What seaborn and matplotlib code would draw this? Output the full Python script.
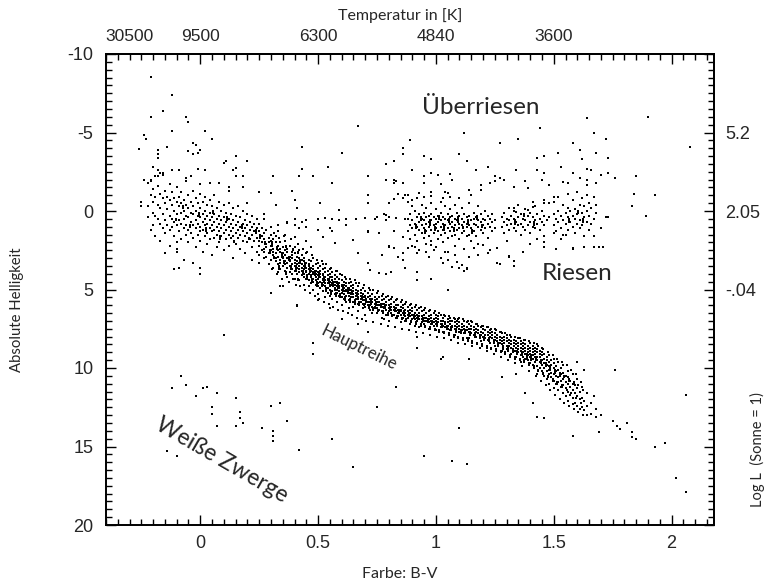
import matplotlib
matplotlib.use("Agg")
import matplotlib.pyplot as plt
from matplotlib.ticker import MultipleLocator, FixedLocator, FixedFormatter
import pandas as pd
import seaborn as sns

# ---------------------------------------------------------------------------
# Star catalogue: colour index B-V and absolute magnitude M_V
# Dense regions are stored as columns (B-V, [magnitudes]); sparse stars as pairs.
# ---------------------------------------------------------------------------

# hot, blue upper main sequence
hot_columns = [
    (-0.22, [-1.8, -0.3, 0.4]), (-0.21, [-2.0, -1.0, 1.2]), (-0.20, [-1.4, -0.6, 0.1, 0.9]),
    (-0.19, [-2.2, -0.9, 0.3, 1.6]), (-0.18, [-1.6, -0.4, 0.5]), (-0.17, [-1.1, -0.2, 0.8, 1.9]),
    (-0.16, [-2.4, -0.8, 0.2, 1.1]), (-0.15, [-1.3, -0.5, 0.6, 1.4]), (-0.14, [-0.9, -0.1, 0.9]),
    (-0.13, [-1.7, -0.7, 0.3, 1.2, 2.2]), (-0.12, [-1.2, -0.4, 0.5, 1.0]), (-0.11, [-0.8, 0.0, 0.7, 1.6]),
    (-0.10, [-1.5, -0.6, 0.2, 0.9, 2.4]), (-0.09, [-0.9, -0.3, 0.6, 1.3]), (-0.08, [-1.2, -0.5, 0.1, 0.8, 1.8]),
    (-0.07, [-0.7, 0.0, 0.5, 1.1]), (-0.06, [-1.9, -0.4, 0.3, 0.9, 1.5]), (-0.05, [-1.0, -0.2, 0.4, 1.2, 2.0]),
    (-0.04, [-0.6, 0.1, 0.7, 1.4]), (-0.03, [-1.3, -0.3, 0.2, 0.9, 1.7]), (-0.02, [-0.8, 0.0, 0.6, 1.1, 2.3]),
    (-0.01, [-0.5, 0.3, 0.8, 1.5]), (0.00, [-1.1, -0.2, 0.4, 1.0, 1.3, 1.9]), (0.01, [-0.6, 0.2, 0.7, 1.2, 2.6]),
    (0.02, [-0.9, 0.0, 0.5, 0.9, 1.6]), (0.03, [-0.4, 0.3, 0.8, 1.4, 2.1]), (0.04, [-0.7, 0.1, 0.6, 1.1, 1.8]),
    (0.05, [-0.3, 0.4, 0.9, 1.3, 2.8]), (0.06, [-1.0, 0.2, 0.7, 1.2, 1.7]), (0.07, [-0.2, 0.5, 1.0, 1.5, 2.3]),
    (0.08, [-0.6, 0.3, 0.8, 1.3, 2.0]), (0.09, [0.0, 0.6, 1.1, 1.6]), (0.10, [-0.4, 0.4, 0.9, 1.4, 2.5]),
    (0.11, [0.1, 0.7, 1.2, 1.8]), (0.12, [-0.5, 0.5, 1.0, 1.5, 2.2]), (0.13, [0.2, 0.8, 1.3, 1.7]),
    (0.14, [-0.2, 0.6, 1.1, 1.6, 3.0]), (0.15, [0.3, 0.9, 1.4, 2.1]), (0.16, [-0.3, 0.7, 1.2, 1.7]),
    (0.17, [0.4, 1.0, 1.5, 2.4]), (0.18, [0.0, 0.8, 1.3, 1.9]), (0.19, [0.6, 1.1, 1.6, 2.7]),
    (0.20, [0.2, 0.9, 1.4, 2.0]), (0.21, [0.7, 1.2, 1.8]), (0.22, [0.3, 1.0, 1.5, 2.3, 3.1]),
    (0.23, [0.8, 1.3, 1.9]), (0.24, [0.5, 1.1, 1.7, 2.6]),
]

# short vertical runs of stars within the hot sequence
hot_dashes = [
    (-0.105, [0.5, 0.6]), (-0.075, [-0.3, -0.2]), (-0.045, [0.9, 1.0]), (-0.005, [0.1, 0.2, 0.3]),
    (0.025, [1.1, 1.2, 1.3]), (0.055, [0.0, 0.1]), (0.085, [1.6, 1.7, 1.8]), (0.115, [0.4, 0.5, 0.6]),
    (0.145, [1.9, 2.0]), (0.175, [0.9, 1.0, 1.1]), (0.205, [1.7, 1.8]), (0.235, [1.2, 1.3, 1.4]),
    (0.255, [1.5, 1.6, 1.7]), (0.275, [2.0, 2.1]), (0.295, [2.5, 2.6, 2.7]),
]

# main sequence from F to M dwarfs
ms_columns = [
    (0.25, [0.8, 1.3, 1.9, 2.2, 2.8, 3.3]), (0.26, [1.1, 1.6, 2.0, 2.5]), (0.27, [0.5, 1.4, 1.8, 2.4, 2.6, 3.0]),
    (0.28, [1.2, 2.1, 2.3, 2.9]), (0.29, [1.7, 2.0, 2.7, 3.4]), (0.30, [1.0, 1.5, 1.9, 2.2, 2.5, 3.1]),
    (0.31, [1.8, 2.4, 2.6, 2.8, 3.6]), (0.32, [1.6, 2.0, 2.7, 3.0, 3.2]), (0.33, [1.3, 2.2, 2.5, 2.9, 3.4, 3.9]),
    (0.34, [2.0, 2.4, 2.6, 3.1, 3.3, 3.7]), (0.35, [2.3, 2.7, 2.9, 3.0, 3.5]), (0.36, [1.9, 2.5, 2.8, 3.2, 3.4, 3.8]),
    (0.37, [2.4, 2.6, 3.0, 3.3, 3.6, 4.2]), (0.38, [2.2, 2.9, 3.1, 3.2, 3.5, 3.9]), (0.39, [2.6, 2.8, 3.0, 3.4, 3.7, 4.0]),
    (0.40, [2.3, 2.7, 3.1, 3.3, 3.5, 3.8, 4.3]), (0.41, [2.9, 3.2, 3.4, 3.6, 4.0]),
    (0.42, [2.5, 3.0, 3.3, 3.5, 3.7, 3.9, 4.4]), (0.43, [2.8, 3.1, 3.4, 3.6, 3.8, 4.1]),
    (0.44, [3.0, 3.2, 3.5, 3.7, 4.0, 4.2, 4.7]), (0.45, [2.7, 3.3, 3.6, 3.8, 3.9, 4.3]),
    (0.46, [3.1, 3.4, 3.5, 3.7, 4.0, 4.4, 4.8]), (0.47, [3.2, 3.6, 3.8, 4.1, 4.2, 4.6]),
    (0.48, [3.0, 3.5, 3.7, 3.9, 4.0, 4.3, 4.5, 5.0]), (0.49, [3.4, 3.8, 4.0, 4.2, 4.4, 4.7]),
    (0.50, [3.3, 3.6, 3.9, 4.1, 4.3, 4.6, 4.8, 5.3]), (0.51, [3.5, 3.8, 4.0, 4.2, 4.5, 4.9]),
    (0.52, [3.4, 3.7, 4.0, 4.1, 4.3, 4.4, 4.7, 5.1]), (0.53, [3.6, 3.9, 4.2, 4.4, 4.6, 4.8, 5.5]),
    (0.54, [3.8, 4.1, 4.3, 4.4, 4.6, 4.9, 5.2]), (0.55, [3.7, 4.0, 4.2, 4.5, 4.7, 4.8, 5.0, 5.4]),
    (0.56, [3.9, 4.2, 4.4, 4.6, 4.7, 5.1, 5.6]), (0.57, [4.1, 4.3, 4.5, 4.7, 4.9, 5.0, 5.3]),
    (0.58, [3.8, 4.2, 4.5, 4.6, 4.8, 5.0, 5.2, 5.8]), (0.59, [4.3, 4.6, 4.8, 4.9, 5.1, 5.4]),
    (0.60, [4.1, 4.4, 4.7, 4.8, 5.0, 5.2, 5.5, 6.0]), (0.61, [4.5, 4.7, 4.9, 5.1, 5.3, 5.6]),
    (0.62, [4.3, 4.6, 4.8, 5.0, 5.1, 5.4, 5.8]), (0.63, [4.6, 4.9, 5.0, 5.2, 5.4, 5.7, 6.2]),
    (0.64, [4.5, 4.8, 5.0, 5.2, 5.3, 5.5]), (0.65, [4.7, 4.9, 5.1, 5.3, 5.5, 5.8, 6.1]),
    (0.66, [4.6, 5.0, 5.2, 5.4, 5.6]), (0.67, [4.8, 5.1, 5.3, 5.5, 5.6, 5.9, 6.4]),
    (0.68, [5.0, 5.2, 5.4, 5.6, 5.8]), (0.69, [4.9, 5.3, 5.5, 5.7, 5.9, 6.2]),
    (0.70, [5.1, 5.4, 5.5, 5.7, 5.9, 6.1, 6.6]), (0.71, [5.2, 5.5, 5.8, 6.0]),
    (0.72, [5.0, 5.4, 5.6, 5.8, 6.0, 6.3]), (0.73, [5.3, 5.6, 5.8, 6.1, 6.5]),
    (0.74, [5.5, 5.7, 5.9, 6.1, 6.2]), (0.75, [5.2, 5.6, 5.8, 6.0, 6.2, 6.5]),
    (0.76, [5.5, 5.8, 6.0, 6.3]), (0.77, [5.4, 5.7, 5.9, 6.1, 6.4, 6.8]),
    (0.78, [5.6, 5.9, 6.1, 6.2]), (0.79, [5.5, 5.8, 6.0, 6.3, 6.6]),
    (0.80, [5.7, 6.0, 6.2, 6.4, 7.0]), (0.81, [5.6, 5.9, 6.1, 6.3, 6.5]),
    (0.82, [5.8, 6.1, 6.3, 6.6]), (0.83, [5.7, 6.0, 6.2, 6.4, 6.8]),
    (0.84, [6.0, 6.3, 6.5, 6.7]), (0.85, [5.8, 6.1, 6.3, 6.4, 6.6, 7.1]),
    (0.86, [6.0, 6.2, 6.5, 6.8]), (0.87, [5.9, 6.3, 6.5, 6.7, 7.0]),
    (0.88, [6.1, 6.4, 6.6, 6.8]), (0.89, [6.0, 6.3, 6.5, 6.7, 7.2]),
    (0.90, [6.2, 6.4, 6.6, 6.9]), (0.91, [6.1, 6.5, 6.7, 6.9, 7.3]),
    (0.92, [6.3, 6.6, 6.8, 7.0]), (0.93, [6.2, 6.5, 6.7, 6.9, 7.4]),
    (0.94, [6.4, 6.7, 6.9, 7.1]), (0.95, [6.3, 6.6, 6.8, 7.0, 7.2]),
    (0.96, [6.5, 6.8, 7.0]), (0.97, [6.4, 6.7, 6.9, 7.1, 7.5]),
    (0.98, [6.6, 6.8, 7.0, 7.2]), (0.99, [6.5, 6.9, 7.1, 7.3]),
    (1.00, [6.6, 6.8, 7.0, 7.2, 7.6]), (1.01, [6.7, 6.9, 7.1]),
    (1.02, [6.6, 7.0, 7.2, 7.4]), (1.03, [6.8, 7.0, 7.3, 7.7]),
    (1.04, [6.7, 7.1, 7.2, 7.4]), (1.05, [6.9, 7.1, 7.3, 7.5]),
    (1.06, [6.8, 7.0, 7.2, 7.6]), (1.07, [7.0, 7.3, 7.4]),
    (1.08, [6.9, 7.1, 7.3, 7.5, 7.9]), (1.09, [7.0, 7.2, 7.4]),
    (1.10, [6.8, 7.1, 7.3, 7.5, 7.7]), (1.11, [7.2, 7.4, 7.6]),
    (1.12, [7.0, 7.3, 7.5, 7.8]), (1.13, [7.1, 7.4, 7.6]),
    (1.14, [7.2, 7.5, 7.7, 8.1]), (1.15, [7.0, 7.3, 7.5, 7.8]),
    (1.16, [7.4, 7.6, 7.9]), (1.17, [7.2, 7.5, 7.7, 8.0]),
    (1.18, [7.3, 7.6, 7.8]), (1.19, [7.4, 7.7, 7.9, 8.3]),
    (1.20, [7.3, 7.5, 7.8, 8.0]), (1.21, [7.6, 7.9, 8.1]),
    (1.22, [7.4, 7.7, 7.9, 8.2]), (1.23, [7.6, 7.8, 8.0, 8.4]),
    (1.24, [7.7, 7.9, 8.1]), (1.25, [7.5, 7.8, 8.0, 8.2, 8.6]),
    (1.26, [7.9, 8.1, 8.3]), (1.27, [7.7, 8.0, 8.2, 8.4]),
    (1.28, [7.8, 8.1, 8.3, 8.5, 8.9]), (1.29, [8.0, 8.2, 8.4]),
    (1.30, [7.9, 8.1, 8.3, 8.6, 8.8]), (1.31, [8.2, 8.4, 8.6]),
    (1.32, [8.0, 8.3, 8.5, 8.7, 9.1]), (1.33, [8.2, 8.4, 8.6, 8.9]),
    (1.34, [8.3, 8.5, 8.7, 8.9, 9.3]), (1.35, [8.1, 8.4, 8.6, 8.8, 9.0]),
    (1.36, [8.3, 8.5, 8.7, 8.9, 9.2, 9.6]), (1.37, [8.4, 8.6, 8.8, 9.0, 9.3]),
    (1.38, [8.2, 8.5, 8.7, 8.9, 9.1, 9.4]), (1.39, [8.6, 8.8, 9.0, 9.2, 9.5]),
    (1.40, [8.4, 8.7, 8.9, 9.1, 9.3, 9.7]), (1.41, [8.6, 8.8, 9.0, 9.2, 9.4, 9.8]),
    (1.42, [8.7, 8.9, 9.1, 9.3, 9.6]), (1.43, [8.5, 8.8, 9.0, 9.3, 9.5, 9.9, 10.4]),
    (1.44, [8.9, 9.1, 9.3, 9.6, 10.0]), (1.45, [8.7, 9.0, 9.2, 9.5, 9.8, 10.2]),
    (1.46, [9.1, 9.4, 9.7, 10.0, 10.5]), (1.47, [9.3, 9.5, 9.8, 10.2, 10.7]),
    (1.48, [9.2, 9.6, 9.9, 10.1, 10.4, 11.0]), (1.49, [9.5, 9.8, 10.3, 10.6]),
    (1.50, [9.4, 9.7, 10.0, 10.4, 10.8, 11.3]), (1.51, [9.9, 10.2, 10.5, 11.0]),
    (1.52, [9.6, 10.1, 10.6, 10.9, 11.4]), (1.53, [10.0, 10.4, 10.8, 11.2]),
    (1.54, [9.8, 10.3, 10.7, 11.1, 11.6]), (1.55, [10.5, 10.9, 11.3, 11.8]),
    (1.56, [10.2, 10.6, 11.0, 11.5, 12.1]), (1.57, [10.8, 11.2, 11.7]),
    (1.58, [10.4, 11.0, 11.4, 11.9, 12.3]), (1.59, [11.1, 11.6, 12.2]),
    (1.60, [10.7, 11.3, 11.8, 12.4]), (1.61, [11.5, 12.0, 12.6]),
    (1.62, [11.2, 11.9, 12.5]), (1.63, [12.1, 12.7]), (1.64, [11.6, 12.4, 13.0]),
    (1.66, [12.2, 12.9]), (1.68, [12.6, 13.1]), (1.70, [13.0]),
]

# short vertical runs of stars within the main sequence
ms_dashes = [
    (0.305, [2.0, 2.1, 2.2, 3.7]), (0.315, [1.4, 2.9, 3.0]), (0.325, [2.3, 2.4, 4.0]),
    (0.335, [1.7, 3.5, 3.6, 3.7]), (0.345, [2.7, 2.8, 2.9, 4.3]), (0.355, [1.6, 3.2, 3.3]),
    (0.365, [2.2, 2.3, 3.9, 4.0]), (0.375, [2.9, 3.0, 3.1, 4.5]), (0.385, [1.8, 3.5, 3.6, 3.7]),
    (0.395, [2.4, 2.5, 4.3]), (0.405, [3.5, 3.6, 3.7, 3.8, 4.7]), (0.415, [2.1, 2.6, 2.7, 4.3, 4.4]),
    (0.425, [3.1, 3.2, 3.3, 4.8]), (0.435, [2.4, 3.8, 3.9, 4.0]), (0.445, [3.3, 3.4, 3.5, 3.6, 5.0]),
    (0.455, [2.6, 4.1, 4.2, 4.3]), (0.465, [3.6, 3.7, 3.8, 3.9, 5.2]), (0.475, [2.8, 4.3, 4.4, 4.5]),
    (0.485, [3.8, 3.9, 4.0, 4.1, 5.4]), (0.495, [3.1, 4.5, 4.6, 4.7, 4.8]), (0.505, [3.9, 4.0, 4.1, 4.2, 5.6]),
    (0.515, [3.2, 4.6, 4.7, 4.8]), (0.525, [4.2, 4.3, 4.4, 4.5, 5.8]), (0.535, [3.4, 4.9, 5.0, 5.1]),
    (0.545, [4.3, 4.4, 4.5, 4.6, 5.9]), (0.555, [3.6, 5.1, 5.2, 5.3]), (0.565, [4.5, 4.6, 4.7, 4.8, 6.1]),
    (0.575, [3.8, 5.2, 5.3, 5.4]), (0.585, [4.6, 4.7, 4.8, 4.9, 6.3]), (0.595, [4.0, 5.3, 5.4, 5.5]),
    (0.605, [4.8, 4.9, 5.0, 5.1, 6.4]), (0.615, [4.2, 5.5, 5.6, 5.7]), (0.625, [4.9, 5.0, 5.1, 5.2, 6.5]),
    (0.635, [4.3, 5.6, 5.7, 5.8]), (0.645, [5.1, 5.2, 5.3, 6.6]), (0.655, [4.4, 5.7, 5.8, 5.9]),
    (0.665, [5.2, 5.3, 5.4, 6.8]), (0.675, [4.6, 5.8, 5.9, 6.0]), (0.685, [5.4, 5.5, 5.6, 6.9]),
    (0.695, [4.7, 5.9, 6.0]), (0.705, [5.6, 5.7, 5.8, 7.0]), (0.715, [4.9, 6.1, 6.2]),
    (0.725, [5.7, 5.8, 5.9]), (0.735, [5.0, 6.2, 6.3, 7.1]), (0.745, [5.8, 5.9, 6.0]),
    (0.755, [5.1, 6.3, 6.4]), (0.765, [5.9, 6.0, 6.1, 7.2]), (0.775, [5.3, 6.4, 6.5]),
    (0.785, [6.0, 6.1, 6.2]), (0.795, [5.4, 6.5, 6.6, 7.3]), (0.805, [6.1, 6.2, 6.3]),
    (0.815, [5.5, 6.6, 6.7]), (0.825, [6.2, 6.3, 6.4, 7.4]), (0.835, [5.6, 6.7, 6.8]),
    (0.845, [6.3, 6.4, 6.5]), (0.855, [5.7, 6.8, 6.9, 7.5]), (0.865, [6.4, 6.5, 6.6]),
    (0.875, [5.8, 6.9, 7.0]), (0.885, [6.5, 6.6, 6.7, 7.6]), (0.895, [5.9, 7.0, 7.1]),
    (0.905, [6.6, 6.7, 6.8]), (0.915, [6.0, 7.1, 7.2, 7.7]), (0.925, [6.7, 6.8, 6.9]),
    (0.935, [6.1, 7.2, 7.3]), (0.945, [6.8, 6.9, 7.0, 7.8]), (0.955, [6.2, 7.3, 7.4]),
    (0.965, [6.9, 7.0, 7.1]), (0.975, [6.3, 7.4, 7.5, 7.9]), (0.985, [7.0, 7.1, 7.2]),
    (0.995, [6.4, 7.5, 7.6]), (1.005, [7.1, 7.2, 7.3, 8.0]), (1.015, [6.5, 7.6, 7.7]),
    (1.025, [7.2, 7.3, 7.4]), (1.035, [6.6, 7.7, 7.8, 8.1]), (1.045, [7.3, 7.4, 7.5]),
    (1.055, [6.7, 7.8, 7.9]), (1.065, [7.4, 7.5, 7.6, 8.2]), (1.075, [6.8, 7.9, 8.0]),
    (1.085, [7.5, 7.6, 7.7]), (1.095, [6.9, 8.0, 8.1, 8.4]), (1.105, [7.6, 7.7, 7.8]),
    (1.115, [6.9, 8.1, 8.2]), (1.125, [7.6, 7.7, 7.8, 8.5]), (1.135, [7.0, 8.2, 8.3]),
    (1.145, [7.7, 7.8, 7.9]), (1.155, [7.1, 8.3, 8.4, 8.6]), (1.165, [7.8, 7.9, 8.0]),
    (1.175, [7.2, 8.4, 8.5]), (1.185, [7.9, 8.0, 8.1, 8.7]), (1.195, [7.3, 8.5, 8.6]),
    (1.205, [8.0, 8.1, 8.2]), (1.215, [7.4, 8.6, 8.7, 8.9]), (1.225, [8.1, 8.2, 8.3]),
    (1.235, [7.5, 8.7, 8.8]), (1.245, [8.2, 8.3, 8.4, 9.1]), (1.255, [7.6, 8.8, 8.9]),
    (1.265, [8.4, 8.5, 8.6]), (1.275, [7.7, 8.9, 9.0, 9.3]), (1.285, [8.6, 8.7, 8.8]),
    (1.295, [7.8, 9.0, 9.1]), (1.305, [8.7, 8.8, 8.9, 9.5]), (1.315, [7.9, 9.2, 9.3]),
    (1.325, [8.8, 8.9, 9.0]), (1.335, [8.0, 9.3, 9.4, 9.7]), (1.345, [8.9, 9.0, 9.1]),
    (1.355, [8.1, 9.4, 9.5]), (1.365, [9.0, 9.1, 9.2, 9.9]), (1.375, [8.2, 9.5, 9.6]),
    (1.385, [9.1, 9.2, 9.3, 9.4]), (1.395, [8.3, 9.7, 9.8, 10.2]), (1.405, [9.2, 9.3, 9.4, 9.5]),
    (1.415, [8.4, 9.9, 10.0]), (1.425, [9.3, 9.4, 9.5, 10.5]), (1.435, [8.6, 10.1, 10.2]),
    (1.445, [9.5, 9.6, 9.7, 10.8]), (1.455, [8.8, 10.3, 10.4]), (1.465, [9.7, 9.8, 9.9, 11.1]),
    (1.475, [9.0, 10.5, 10.6]), (1.485, [9.9, 10.0, 10.1, 11.4]), (1.495, [9.2, 10.7, 10.8]),
    (1.505, [10.1, 10.2, 10.3, 11.7]), (1.515, [9.4, 10.9, 11.0]), (1.525, [10.3, 10.4, 10.5, 12.0]),
    (1.535, [9.6, 11.1, 11.2]), (1.545, [10.5, 10.6, 12.2]), (1.555, [9.8, 11.4]),
    (1.565, [10.7, 10.8, 12.4]), (1.575, [10.1, 11.6]), (1.585, [10.9, 11.0, 12.6]),
    (1.595, [10.4, 11.9]), (1.605, [11.1, 12.8]), (1.615, [10.9, 12.2]), (1.625, [11.4, 13.0]),
]

# red giant branch / clump
giant_columns = [
    (0.88, [-0.6, 0.5, 1.3]), (0.89, [0.2, 0.9, 1.8]), (0.90, [-0.3, 0.6, 1.1, 2.2]), (0.91, [0.0, 0.8, 1.5]),
    (0.92, [-0.8, 0.4, 1.0, 1.9]), (0.93, [0.2, 0.7, 1.2, 2.5]), (0.94, [-0.4, 0.5, 0.9, 1.4]),
    (0.95, [0.1, 0.6, 1.1, 1.7]), (0.96, [-0.2, 0.4, 0.8, 1.3, 2.1]), (0.97, [0.3, 0.7, 1.0, 1.6]),
    (0.98, [-0.5, 0.2, 0.6, 1.2, 1.9]), (0.99, [0.4, 0.9, 1.4]), (1.00, [-0.1, 0.5, 0.8, 1.1, 2.3]),
    (1.01, [0.3, 0.7, 1.3, 1.8]), (1.02, [-0.6, 0.1, 0.6, 1.0, 1.5]), (1.03, [0.4, 0.8, 1.2, 2.0]),
    (1.04, [-0.3, 0.5, 0.9, 1.4]), (1.05, [0.2, 0.6, 1.1, 1.7, 2.6]), (1.06, [-0.1, 0.4, 0.8, 1.3]),
    (1.07, [0.3, 0.7, 1.0, 1.6]), (1.08, [-0.4, 0.5, 0.9, 1.5, 2.2]), (1.09, [0.1, 0.6, 1.2]),
    (1.10, [0.3, 0.8, 1.1, 1.8]), (1.11, [-0.2, 0.5, 0.9, 1.4]), (1.12, [0.2, 0.7, 1.3, 2.4]),
    (1.13, [0.4, 0.8, 1.0, 1.6]), (1.14, [-0.5, 0.3, 0.9, 1.5]), (1.15, [0.6, 1.1, 1.9]),
    (1.16, [0.1, 0.5, 0.8, 1.3]), (1.17, [0.4, 0.9, 1.6]), (1.18, [-0.3, 0.6, 1.0, 2.1]),
    (1.19, [0.2, 0.7, 1.2]), (1.20, [0.5, 0.9, 1.4]), (1.21, [0.0, 0.6, 1.1]), (1.22, [0.3, 0.8, 1.7]),
    (1.23, [0.5, 1.0]), (1.24, [0.2, 0.7, 1.3]), (1.25, [0.6, 1.1]),
    (1.28, [0.4, 1.0]), (1.29, [0.1, 0.7, 1.4]), (1.30, [0.5, 0.9]), (1.31, [-0.2, 0.6, 1.2]),
    (1.32, [0.3, 0.8]), (1.33, [0.0, 0.5, 1.1]), (1.34, [0.7, 1.3]), (1.35, [-0.4, 0.4, 0.9]),
    (1.36, [0.2, 0.8, 1.5]), (1.37, [0.5, 1.0]), (1.38, [-0.1, 0.6, 1.2]), (1.39, [0.3, 0.9]),
    (1.40, [0.1, 0.7, 1.4]), (1.41, [0.4, 1.0]), (1.42, [-0.3, 0.6, 1.1]), (1.43, [0.2, 0.8]),
    (1.44, [0.5, 1.2]), (1.45, [0.0, 0.7]), (1.46, [0.3, 0.9, 1.6]), (1.47, [0.6]), (1.48, [-0.5, 0.4]),
    (1.50, [-0.6, 0.2, 0.9]), (1.51, [0.5, 1.3]), (1.52, [-0.9, 0.0, 0.7]), (1.53, [0.3, 1.1]),
    (1.54, [-0.4, 0.6, 1.5]), (1.55, [0.1, 0.8]), (1.56, [-1.1, -0.2, 0.4, 1.2]), (1.57, [0.0, 0.7]),
    (1.58, [-0.7, 0.3, 1.0]), (1.59, [-0.1, 0.5, 1.4]), (1.60, [-1.2, 0.2, 0.8]), (1.61, [-0.4, 0.6, 1.1]),
    (1.62, [-0.8, 0.1, 0.9]), (1.63, [-0.3, 0.4, 1.6]), (1.64, [-1.0, 0.0, 0.7]), (1.65, [-0.5, 0.3, 1.2]),
    (1.66, [-0.2, 0.8]), (1.67, [-0.9, 0.5]), (1.68, [-0.4, 0.1]),
]

# short vertical runs of stars within the giant clump
giant_dashes = [
    (0.915, [0.9, 1.0, 1.1]), (0.935, [0.4, 0.5, 0.6]), (0.955, [1.2, 1.3, 1.4]),
    (0.975, [0.6, 0.7, 0.8, 0.9]), (0.995, [1.0, 1.1, 1.2]), (1.015, [0.3, 0.4, 0.5]),
    (1.035, [0.9, 1.0, 1.1, 1.2]), (1.055, [0.5, 0.6, 0.7]), (1.075, [1.1, 1.2, 1.3]),
    (1.095, [0.4, 0.5, 0.6, 0.7]), (1.115, [1.0, 1.1]), (1.135, [0.6, 0.7, 0.8]),
    (1.155, [1.2, 1.3, 1.4]), (1.175, [0.3, 0.4, 0.5]), (1.195, [0.9, 1.0]),
    (1.335, [0.6, 0.7, 0.8]), (1.375, [0.2, 0.3]), (1.415, [0.7, 0.8, 0.9]),
    (1.565, [0.5, 0.6, 0.7]), (1.605, [0.0, 0.1]), (1.625, [0.5, 0.6, 0.7]),
]

# luminous blue stars above the main sequence
bright_hot = [
    (-0.21, -8.55), (-0.12, -7.4), (-0.21, -6.0), (-0.16, -6.4), (-0.06, -6.0), (-0.05, -5.7),
    (-0.12, -5.1), (-0.24, -4.85), (-0.23, -4.6), (0.02, -5.1), (0.05, -4.6), (-0.03, -4.3),
    (-0.02, -4.2), (-0.05, -3.8), (-0.03, -3.65), (-0.01, -3.7), (0.00, -3.9), (-0.26, -3.95),
    (-0.14, -4.1), (-0.18, -3.9), (-0.18, -3.6), (-0.18, -3.4), (0.11, -3.2), (0.10, -3.05),
    (0.15, -3.5), (0.20, -3.2), (0.15, -2.75), (-0.20, -2.8), (-0.18, -2.6), (-0.17, -2.4),
    (-0.16, -2.3), (-0.12, -2.6), (-0.09, -2.6), (-0.01, -2.7), (0.02, -2.6), (0.14, -2.6),
    (-0.24, -2.0), (-0.22, -1.8), (-0.21, -1.9), (-0.18, -2.2), (-0.06, -2.1), (-0.04, -2.2),
    (0.00, -1.7), (0.04, -1.8), (0.08, -1.8), (0.12, -1.5), (0.12, -1.3), (0.15, -2.2),
    (0.18, -2.2), (0.18, -1.5), (0.25, -1.2), (0.30, -1.15), (0.31, -2.2), (0.39, -1.3),
    (0.42, -2.2), (0.43, -2.7), (0.43, -4.1), (0.48, -2.2), (0.54, -2.8), (0.56, -1.8),
    (0.60, -3.7), (0.67, -5.4), (0.71, -1.0), (0.71, -0.5), (0.71, -2.2), (0.20, -0.5),
    (0.32, -0.4), (0.40, -0.7), (0.41, -0.2), (0.51, -0.5), (0.59, -0.06), (0.56, 1.3),
    (0.50, 1.2), (0.27, 0.2), (0.33, 0.9), (0.37, 0.7), (0.42, 1.1), (0.36, 1.5), (0.45, 1.9),
    (-0.25, -0.6), (-0.25, -0.3), (-0.15, 1.4), (-0.10, 2.0), (-0.10, 2.6), (-0.15, 2.7),
    (-0.07, 3.1), (-0.03, 3.3), (0.00, 3.6), (0.00, 4.0), (-0.11, 3.7), (-0.09, 3.6),
]

# horizontal branch
horizontal_branch = [
    (0.40, 0.5), (0.45, 0.55), (0.50, 0.5), (0.53, 0.45), (0.56, 0.5), (0.59, 0.55), (0.62, 0.5),
    (0.66, 0.5), (0.70, 0.45), (0.74, 0.5), (0.79, 0.55), (0.83, 0.45), (0.87, 0.5),
]

# supergiants and bright giants
giant_scatter = [
    (0.89, -4.5), (0.86, -4.0), (0.86, -3.6), (0.82, -3.2), (0.79, -3.0), (0.95, -3.5), (0.98, -3.3),
    (1.10, -3.6), (1.13, -3.2), (1.12, -5.0), (1.27, -4.3), (1.35, -4.6), (1.44, -5.3), (1.43, -3.4),
    (1.46, -3.5), (1.52, -3.7), (1.61, -3.9), (1.62, -3.3), (1.64, -5.9), (1.67, -5.0), (1.72, -4.6),
    (1.68, -3.7), (1.73, -3.4), (1.90, -6.0), (2.08, -4.1), (1.22, -2.8), (1.34, -2.6), (1.43, -2.6),
    (1.46, -2.4), (1.58, -2.4), (1.64, -2.7), (1.73, -2.4), (1.70, -2.3), (1.76, -2.1), (1.85, -2.2),
    (1.84, -1.1), (1.93, -1.0), (1.83, -0.3), (1.89, 0.3), (1.72, 0.4), (0.71, 1.3), (0.75, 0.4),
    (0.78, 0.2), (0.82, 1.3), (0.80, -0.5), (0.82, -2.0), (0.82, -1.8), (0.79, -2.0), (0.84, -1.1),
    (0.87, -1.0), (0.98, -2.4), (1.06, -2.36), (1.07, -1.98), (0.83, -1.9), (0.86, -1.77),
    (0.95, -2.2), (0.95, -1.8), (1.01, -2.3), (1.02, -1.7), (1.25, -2.2), (1.27, -2.1), (1.23, -1.8),
    (1.25, -1.9), (1.29, -1.98), (1.38, -1.9), (1.39, -1.45), (1.33, -1.55), (1.45, -2.0),
    (1.48, -1.66), (1.50, -0.92), (1.54, -1.87), (1.56, -1.77), (1.61, -2.09), (1.64, -1.98),
    (1.64, -1.66), (1.66, -2.6), (1.70, -2.3), (1.76, -2.09), (1.68, -1.77), (1.46, -0.7),
    (1.46, -0.5), (1.41, -0.6), (1.41, -0.24), (1.39, -0.07), (1.33, -0.17), (1.34, 0.04),
    (1.19, -1.66), (1.19, -1.34), (1.14, -1.34), (1.15, -1.02), (1.10, -0.81), (1.05, -1.13),
    (1.06, -0.87), (1.04, -1.24), (1.03, -0.81), (0.98, -1.24), (0.98, -0.96), (0.95, -0.92),
    (0.93, -1.17), (0.90, -0.7), (0.88, -1.0), (0.86, -0.81), (0.82, -0.75), (0.80, 0.4),
    (0.79, 0.25), (0.82, -3.2), (0.90, -2.6), (1.17, -2.6), (1.53, -2.8), (1.58, -4.3),
]

# subgiants below the clump
subgiants = [
    (0.80, 2.27), (0.82, 2.37), (0.86, 1.63), (0.84, 2.9), (0.88, 2.37), (0.86, 2.65), (0.86, 3.1),
    (0.87, 3.65), (0.92, 2.69), (0.91, 2.27), (0.96, 2.59), (0.97, 2.9), (0.98, 2.16), (0.99, 2.48),
    (1.00, 2.27), (1.02, 3.0), (1.03, 3.33), (1.04, 2.59), (1.05, 3.12), (1.07, 3.54), (1.08, 2.8),
    (1.09, 3.22), (1.11, 3.43), (1.13, 3.65), (1.14, 2.9), (1.16, 2.37), (1.18, 2.8), (1.20, 2.16),
    (1.22, 2.69), (1.23, 2.48), (1.26, 2.37), (1.26, 3.33), (1.30, 1.89), (1.31, 2.86), (1.37, 2.59),
    (1.40, 2.1), (1.43, 1.8), (1.46, 2.0), (1.46, 2.27), (1.50, 1.42), (1.53, 1.8), (1.55, 1.52),
    (1.58, 2.37), (1.63, 2.27), (1.70, 1.1), (1.73, 0.36), (1.67, 1.59), (1.58, 2.4), (1.67, 2.3),
    (1.69, 2.3), (1.71, 2.3), (1.31, 2.9), (1.33, 3.2), (1.33, 3.5), (1.27, 3.4), (1.51, 2.4),
    (0.71, 3.3), (0.77, 2.8), (0.92, 3.9), (0.98, 4.3), (1.05, 5.0), (1.10, 3.6), (1.12, 3.8),
    (1.13, 3.7), (0.79, 4.0), (0.80, 2.2),
]

# field stars scattered around the main sequence
field_stars = [
    (0.37, 0.79), (0.40, 0.89), (0.43, 0.68), (0.45, 1.0), (0.50, 1.21), (0.55, 1.1), (0.62, 0.89),
    (0.65, 1.85), (0.57, 2.06), (0.47, 2.27), (0.40, 1.63), (0.52, 1.63), (0.71, 1.32), (0.76, 1.42),
    (0.67, 2.7), (0.72, 3.76), (0.76, 3.97), (0.81, 3.86), (0.34, 4.8), (0.41, 6.0), (0.50, 5.7),
    (0.55, 6.2), (0.60, 6.9), (0.67, 7.2), (0.71, 7.7), (0.78, 6.9), (0.91, 6.9), (0.92, 8.0),
    (1.03, 9.3), (1.13, 8.1), (0.92, 4.4), (0.35, 4.8), (0.30, 5.2), (0.41, 6.05),
]

# white dwarfs and faint red stars
faint_stars = [
    (0.10, 7.9), (0.48, 8.4), (0.48, 9.1), (-0.08, 10.5), (-0.12, 11.3), (-0.06, 11.1), (-0.02, 11.8),
    (0.01, 11.3), (0.03, 11.2), (0.07, 11.6), (0.05, 12.5), (0.05, 12.9), (0.15, 11.9), (0.17, 12.8),
    (0.17, 13.2), (0.18, 13.5), (0.07, 13.7), (0.15, 13.7), (0.26, 13.8), (0.30, 12.4), (0.34, 12.2),
    (0.31, 14.0), (0.31, 14.3), (0.31, 14.65), (0.37, 13.4), (0.42, 15.2), (0.56, 14.5), (0.65, 16.3),
    (0.75, 12.5), (-0.14, 15.3), (-0.10, 15.6), (0.83, 11.2), (1.02, 9.4), (0.92, 8.7), (1.14, 9.4),
    (1.10, 13.8), (0.95, 15.6), (1.07, 15.9), (1.13, 16.1), (1.28, 10.6), (1.34, 10.4), (1.38, 11.6),
    (1.41, 12.2), (1.43, 13.1), (1.46, 13.2), (1.58, 14.3), (1.69, 14.1), (1.76, 10.1), (1.75, 13.4),
    (1.77, 13.7), (1.78, 13.9), (1.81, 13.5), (1.83, 14.1), (1.83, 14.4), (1.85, 14.5), (1.93, 15.0),
    (1.97, 14.8), (2.02, 17.0), (2.06, 17.9), (2.06, 11.7), (1.60, 9.6), (1.63, 10.1), (1.67, 11.8),
]

# labels of the outer axes
bv_ticks = [0, 0.5, 1, 1.5, 2]
bv_labels = ["0", "0.5", "1", "1.5", "2"]
temp_ticks = [-0.3, 0, 0.5, 1.0, 1.5]
temp_labels = ["30500", "9500", "6300", "4840", "3600"]
mag_ticks = [-10, -5, 0, 5, 10, 15, 20]
lum_ticks = [-5, 0, 5]
lum_labels = ["5.2", "2.05", "-.04"]

# ---------------------------------------------------------------------------
rows = []
for columns in (hot_columns, hot_dashes, ms_columns, ms_dashes, giant_columns, giant_dashes):
    for bv, mags in columns:
        rows.extend((bv, m) for m in mags)
for pairs in (bright_hot, horizontal_branch, giant_scatter, subgiants, field_stars, faint_stars):
    rows.extend(pairs)
stars = pd.DataFrame(rows, columns=["bv", "mag"])

sns.set_theme(style="ticks")
plt.rcParams["font.family"] = ["Liberation Sans", "DejaVu Sans"]
plt.rcParams["axes.unicode_minus"] = False
label_font = ["Lato", "DejaVu Sans"]

fig = plt.figure(figsize=(7.65, 5.83), dpi=100)
fig.patch.set_facecolor("white")
ax = fig.add_axes([106 / 765, 58 / 583, 608 / 765, 471 / 583])

sns.scatterplot(data=stars, x="bv", y="mag", ax=ax, color="black", marker="s",
                s=4.2, linewidth=0, legend=False, antialiased=False)

ax.set_xlim(-0.4, 2.18)
ax.set_ylim(20, -10)
ax.set_xlabel("")
ax.set_ylabel("")

ax.xaxis.set_major_locator(FixedLocator(bv_ticks))
ax.xaxis.set_major_formatter(FixedFormatter(bv_labels))
ax.xaxis.set_minor_locator(MultipleLocator(0.05))
ax.yaxis.set_major_locator(FixedLocator(mag_ticks))
ax.yaxis.set_minor_locator(MultipleLocator(0.5))
ax.tick_params(which="both", direction="in", top=True, right=True, color="black", width=1.0)
ax.tick_params(which="major", length=7)
ax.tick_params(which="minor", length=4)
ax.tick_params(axis="x", which="major", labelsize=13, pad=7)
ax.tick_params(axis="y", which="major", labelsize=13, pad=9)
for spine in ax.spines.values():
    spine.set_linewidth(1.4)
    spine.set_color("black")

# temperature scale on top
top = ax.secondary_xaxis("top")
top.xaxis.set_major_locator(FixedLocator(temp_ticks))
top.xaxis.set_major_formatter(FixedFormatter(temp_labels))
top.tick_params(length=0, labelsize=12.5, pad=7)
top.spines["top"].set_linewidth(1.4)

# luminosity scale on the right
right = ax.secondary_yaxis("right")
right.yaxis.set_major_locator(FixedLocator(lum_ticks))
right.yaxis.set_major_formatter(FixedFormatter(lum_labels))
right.tick_params(length=0, labelsize=13, pad=8)
right.spines["right"].set_linewidth(1.4)

fig.text(400 / 765, 1 - 16 / 583, "Temperatur in [K]", ha="center", va="center",
         fontsize=11.5, family=label_font)
fig.text(400 / 765, 1 - 574 / 583, "Farbe: B-V", ha="center", va="center",
         fontsize=11.5, family=label_font)
fig.text(17 / 765, 1 - 310 / 583, "Absolute Helligkeit", ha="center", va="center",
         rotation=90, fontsize=10.7, family=label_font)
fig.text(757 / 765, 1 - 450 / 583, "Log L  (Sonne = 1)", ha="center", va="center",
         rotation=90, fontsize=10.5, family=label_font)

ax.text(1.19, -6.6, "Überriesen", ha="center", va="center", fontsize=17.5, family=label_font)
ax.text(1.60, 3.95, "Riesen", ha="center", va="center", fontsize=17.5, family=label_font)
ax.text(0.675, 8.7, "Hauptreihe", ha="center", va="center", rotation=-26,
        rotation_mode="anchor", fontsize=12, family=label_font)
ax.text(0.093, 15.86, "Weiße Zwerge", ha="center", va="center", rotation=-30,
        rotation_mode="anchor", fontsize=16.5, family=label_font)

fig.savefig("out.png", dpi=100, facecolor="white")
